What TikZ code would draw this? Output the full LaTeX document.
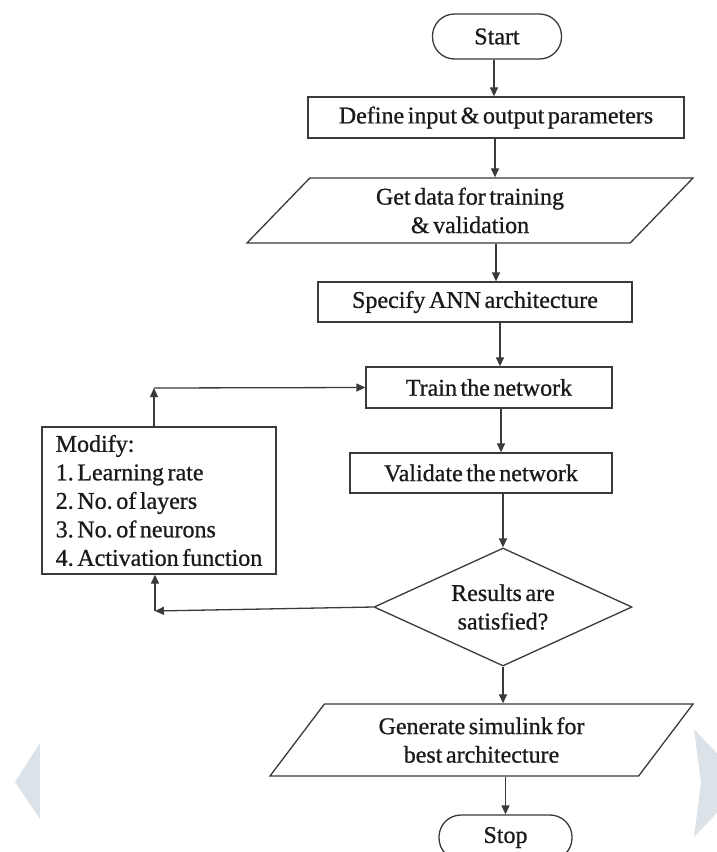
\documentclass[tikz,border=0pt]{standalone}
\usepackage{fontspec}
\newfontfamily\tnr{Liberation Serif}[WordSpace=0.6,FakeBold=0.8]
\setmainfont{Liberation Serif}
\usetikzlibrary{shapes.geometric,arrows.meta}
\definecolor{ln}{HTML}{3A3A3A}
\definecolor{txt}{HTML}{1A1A1A}
\definecolor{chev}{HTML}{DCE3E8}
\frenchspacing
\begin{document}
\begin{tikzpicture}[x=1pt,y=-1pt,
  every node/.style={font=\tnr\fontsize{24}{28.5}\selectfont, text=txt},
  box/.style={draw=ln, line width=1.3pt, rectangle, inner sep=0pt, align=center},
  term/.style={draw=ln, line width=1.3pt, rectangle, rounded corners=22pt, inner sep=0pt},
  para/.style={draw=ln, line width=1.3pt, trapezium, trapezium stretches body, inner sep=0pt, align=center},
  arr/.style={draw=ln, line width=1.3pt, -{Triangle[length=9pt,width=8pt]}}]
\useasboundingbox (0,0) rectangle (717,852);
\clip (0,0) rectangle (717,852);
\fill[white] (0,0) rectangle (717,852);
% side chevrons
\fill[chev] (15,782) -- (40,743) -- (40,819) -- cycle;
\fill[chev] (694,729) -- (745,783) -- (694,837) -- (701,783) -- cycle;
% nodes
\node[term, minimum width=129, minimum height=45] (start) at (497,36.5) {Start};
\node[box, minimum width=376, minimum height=41] (define) at (496,117.5) {Define input \& output parameters};
\node[para, trapezium left angle=36, trapezium right angle=144, minimum width=446, minimum height=65] (getdata) at (470,210.5) {Get data for training\\\& validation};
\node[box, minimum width=314, minimum height=40] (specify) at (475,302) {Specify ANN architecture};
\node[box, minimum width=246, minimum height=41] (train) at (489,387.5) {Train the network};
\node[box, minimum width=262, minimum height=40] (validate) at (481,473) {Validate the network};
\node[draw=ln, line width=1.3pt, diamond, aspect=2.2, inner sep=0pt, minimum width=258, minimum height=118, align=center] (dia) at (503,607) {Results are\\satisfied?};
\node[para, trapezium left angle=40, trapezium right angle=140, minimum width=423, minimum height=72] (gen) at (481.5,740) {Generate simulink for\\best architecture};
\node[term, minimum width=133, minimum height=45] (stop) at (505.5,837.5) {Stop};
\node[box, minimum width=234, minimum height=147, align=left] (modify) at (159,500.5) {Modify:\\1. Learning rate\\2. No. of layers\\3. No. of neurons\\4. Activation function};
% loop corners
\coordinate (c1) at (155,611);
\coordinate (c2) at (154,388);
% main connectors
\draw[arr] ([xshift=-3pt]start.south) -- ([xshift=-3pt]start.south |- define.north);
\draw[arr] ([xshift=-1pt]define.south) -- ([xshift=-1pt]define.south |- getdata.north);
\draw[arr] (getdata.south -| define.south) -- (define.south |- specify.north);
\draw[arr] ([xshift=25pt]specify.south) -- ([xshift=25pt]specify.south |- train.north);
\draw[arr] ([xshift=12pt]train.south) -- ([xshift=12pt]train.south |- validate.north);
\draw[arr] (validate.south -| dia.north) -- (dia.north);
\draw[arr] (dia.south) -- (dia.south |- gen.north);
\draw[arr] (gen.south -| stop.north) -- (stop.north);
% feedback loop
\draw[arr] (dia.west) -- (c1);
\draw[arr] (c1) -- (c1 |- modify.south);
\draw[arr] (modify.north -| c2) -- (c2);
\draw[arr] (c2) -- (train.west);
\end{tikzpicture}
\end{document}
